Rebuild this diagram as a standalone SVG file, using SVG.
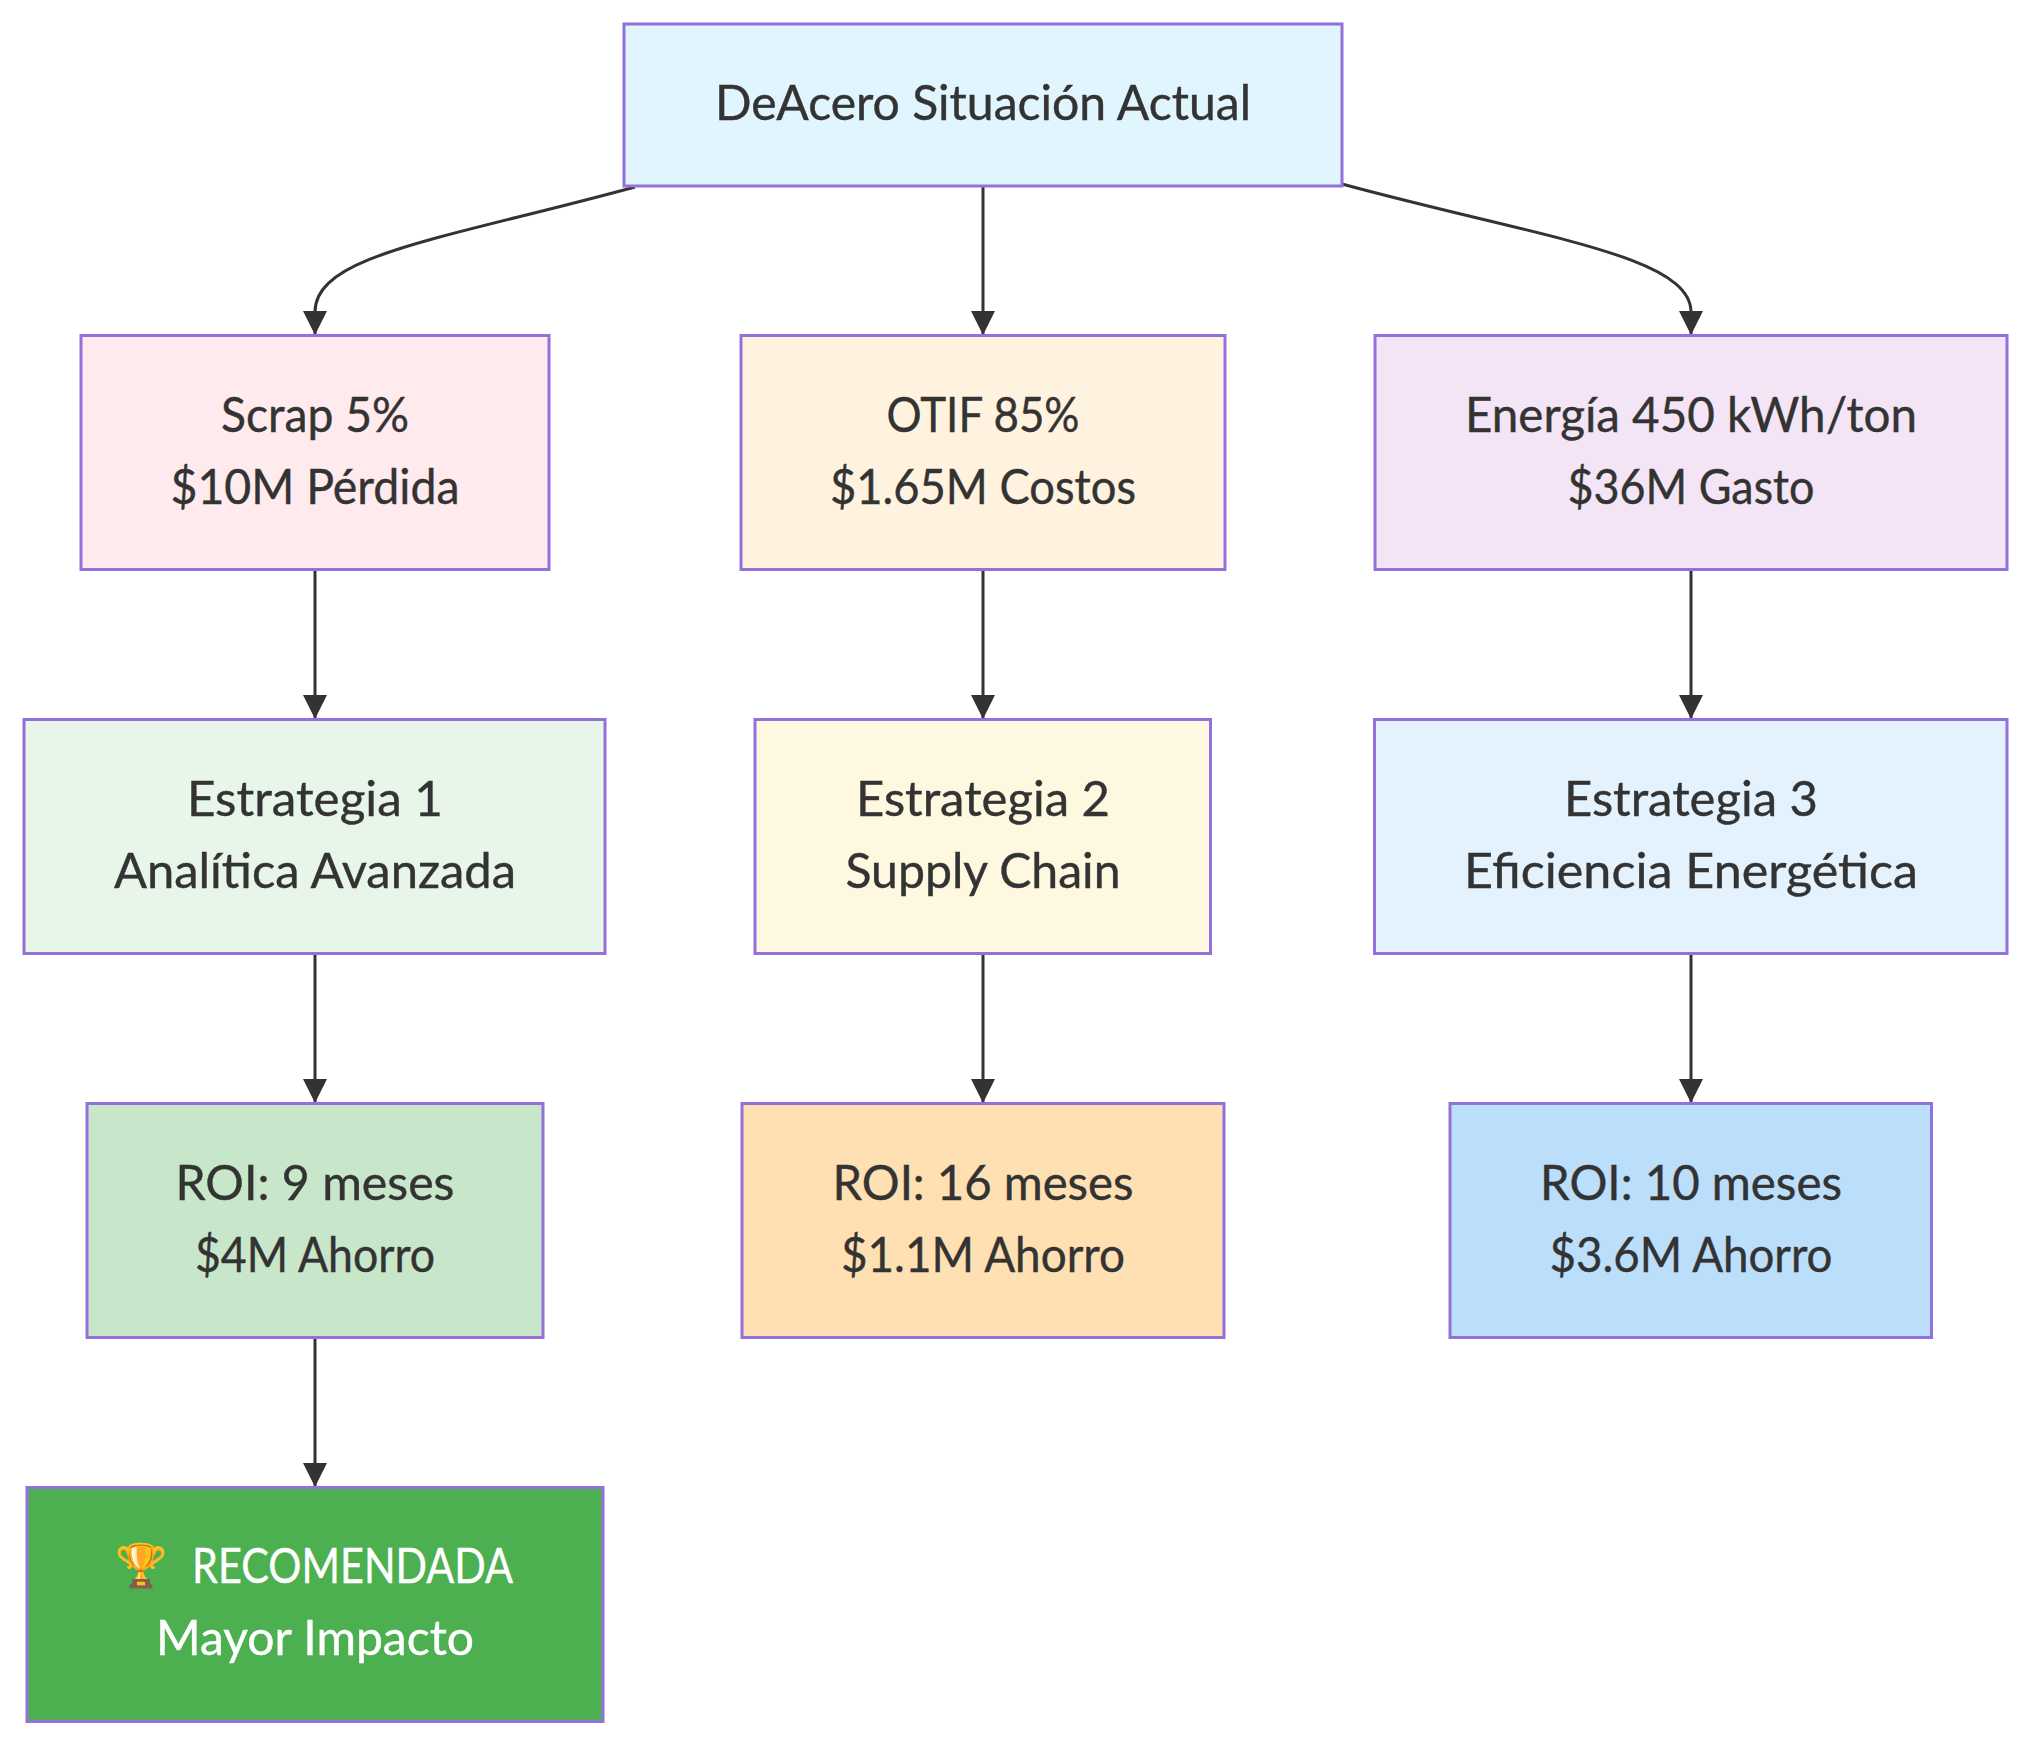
<svg xmlns="http://www.w3.org/2000/svg" width="2031" height="1746" viewBox="0 0 2031 1746">
<style>
.n{stroke:#9370DB;stroke-width:3}
.t{font-family:"Lato","Noto Sans",sans-serif;font-size:48px;fill:#333;text-anchor:middle;stroke:#333;stroke-width:.4}
.w{fill:#fff;stroke:#fff}
.e{fill:none;stroke:#333;stroke-width:3;marker-end:url(#a)}
</style>
<defs><marker id="a" markerUnits="userSpaceOnUse" markerWidth="24" markerHeight="24" refX="24" refY="12" orient="auto"><path d="M0 0L24 12L0 24z" fill="#333"/></marker></defs>
<rect width="2031" height="1746" fill="#fff"/>
<g id="connectors">
<path class="e" d="M635 187C440 240 315 255 315 312L315 335"/>
<path class="e" d="M983 186V335"/>
<path class="e" d="M1342 184C1537 237 1691 255 1691 312L1691 335"/>
<path class="e" d="M315 569V719"/><path class="e" d="M983 569V719"/><path class="e" d="M1691 569V719"/>
<path class="e" d="M315 953V1103"/><path class="e" d="M983 953V1103"/><path class="e" d="M1691 953V1103"/>
<path class="e" d="M315 1337V1487"/>
</g>
<g id="A"><rect class="n" x="624" y="24" width="718" height="162" fill="#E1F5FE"/><text class="t" x="983" y="120" textLength="536" lengthAdjust="spacingAndGlyphs">DeAcero Situación Actual</text></g>
<g id="B"><rect class="n" x="81" y="335.5" width="468" height="234" fill="#FFEBEE"/><text class="t" x="315" y="431.5" textLength="188" lengthAdjust="spacingAndGlyphs">Scrap 5%</text><text class="t" x="315" y="503.5" textLength="289" lengthAdjust="spacingAndGlyphs">$10M Pérdida</text></g>
<g id="C"><rect class="n" x="741" y="335.5" width="484" height="234" fill="#FFF3E0"/><text class="t" x="983" y="431.5" textLength="193" lengthAdjust="spacingAndGlyphs">OTIF 85%</text><text class="t" x="983" y="503.5" textLength="306" lengthAdjust="spacingAndGlyphs">$1.65M Costos</text></g>
<g id="D"><rect class="n" x="1375" y="335.5" width="632" height="234" fill="#F3E5F5"/><text class="t" x="1691" y="431.5" textLength="452" lengthAdjust="spacingAndGlyphs">Energía 450 kWh/ton</text><text class="t" x="1691" y="503.5" textLength="247" lengthAdjust="spacingAndGlyphs">$36M Gasto</text></g>
<g id="E"><rect class="n" x="24" y="719.5" width="581" height="234" fill="#E8F5E9"/><text class="t" x="315" y="815.5" textLength="256" lengthAdjust="spacingAndGlyphs">Estrategia 1</text><text class="t" x="315" y="887.5" textLength="402" lengthAdjust="spacingAndGlyphs">Analítica Avanzada</text></g>
<g id="F"><rect class="n" x="755" y="719.5" width="455.5" height="234" fill="#FFF8E1"/><text class="t" x="983" y="815.5" textLength="254" lengthAdjust="spacingAndGlyphs">Estrategia 2</text><text class="t" x="983" y="887.5" textLength="275" lengthAdjust="spacingAndGlyphs">Supply Chain</text></g>
<g id="G"><rect class="n" x="1374.5" y="719.5" width="632.5" height="234" fill="#E3F2FD"/><text class="t" x="1691" y="815.5" textLength="254" lengthAdjust="spacingAndGlyphs">Estrategia 3</text><text class="t" x="1691" y="887.5" textLength="454" lengthAdjust="spacingAndGlyphs">Eficiencia Energética</text></g>
<g id="H"><rect class="n" x="87" y="1103.5" width="456" height="234" fill="#C8E6C9"/><text class="t" x="315" y="1199.5" textLength="279" lengthAdjust="spacingAndGlyphs">ROI: 9 meses</text><text class="t" x="315" y="1271.5" textLength="240" lengthAdjust="spacingAndGlyphs">$4M Ahorro</text></g>
<g id="I"><rect class="n" x="742" y="1103.5" width="482" height="234" fill="#FFE0B2"/><text class="t" x="983" y="1199.5" textLength="301" lengthAdjust="spacingAndGlyphs">ROI: 16 meses</text><text class="t" x="983" y="1271.5" textLength="284" lengthAdjust="spacingAndGlyphs">$1.1M Ahorro</text></g>
<g id="J"><rect class="n" x="1450" y="1103.5" width="481.5" height="234" fill="#BBDEFB"/><text class="t" x="1691" y="1199.5" textLength="302" lengthAdjust="spacingAndGlyphs">ROI: 10 meses</text><text class="t" x="1691" y="1271.5" textLength="283" lengthAdjust="spacingAndGlyphs">$3.6M Ahorro</text></g>
<g id="K"><rect class="n" x="27" y="1487.5" width="576" height="234" fill="#4CAF50"/><text class="t w" y="1583"><tspan x="141" dy="-3" font-size="42">🏆</tspan><tspan x="352.5" dy="3" textLength="321" lengthAdjust="spacingAndGlyphs">RECOMENDADA</tspan></text><text class="t w" x="315" y="1654.5" textLength="318" lengthAdjust="spacingAndGlyphs">Mayor Impacto</text></g>
</svg>
